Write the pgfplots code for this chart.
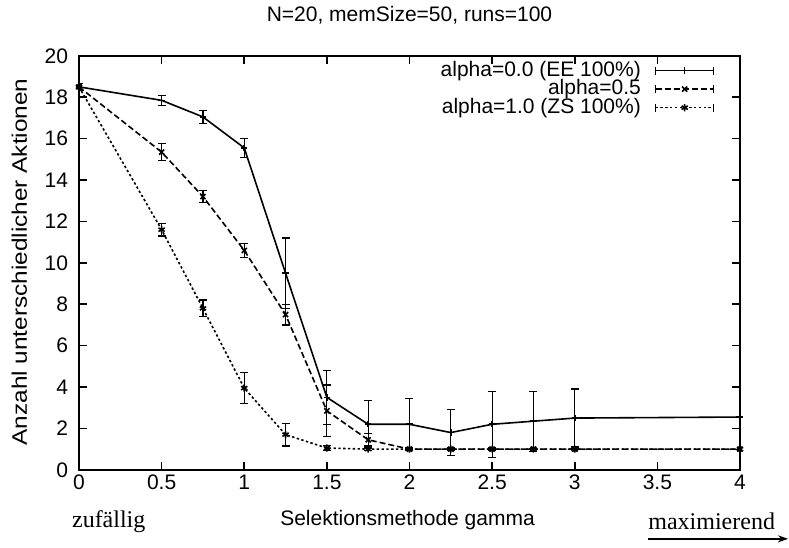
\documentclass[border=0pt]{standalone}
\usepackage{pgfplots}
\pgfplotsset{compat=1.18}
\usepackage{pgfplotstable}
\usepackage{fontspec}
\setmainfont{Liberation Sans}
\newfontfamily\seriffont{Liberation Serif}
\usetikzlibrary{arrows.meta}

\pgfplotstableread{
x y e
0 18.5 0.15
0.5 17.85 0.25
0.75 17.05 0.3
1 15.55 0.45
1.25 9.5 1.7
1.5 3.5 1.3
1.75 2.2 1.15
2 2.2 1.25
2.25 1.8 1.1
2.5 2.2 1.6
2.75 2.35 1.45
3 2.5 1.4
4 2.55 0
}\seriesA

\pgfplotstableread{
x y e
0 18.5 0.15
0.5 15.35 0.4
0.75 13.2 0.3
1 10.6 0.35
1.25 7.5 0.5
1.5 2.85 1.25
1.75 1.45 0.3
2 1.0 0.05
2.25 1.0 0.05
2.5 1.0 0.05
2.75 1.0 0.03
3 1.0 0.03
4 1.0 0
}\seriesB

\pgfplotstableread{
x y e
0 18.5 0.15
0.5 11.6 0.3
0.75 7.8 0.4
1 3.95 0.75
1.25 1.7 0.55
1.5 1.05 0.12
1.75 1.0 0.08
2 1.0 0.03
2.25 1.0 0.03
2.5 1.0 0.03
2.75 1.0 0.03
3 1.0 0.03
4 1.0 0
}\seriesC

\begin{document}
\begin{tikzpicture}
\begin{axis}[
  scale only axis,
  width=330.5pt, height=207pt,
  xmin=0, xmax=4, ymin=0, ymax=20,
  xtick={0,0.5,1,1.5,2,2.5,3,3.5,4},
  xticklabels={0,0.5,1,1.5,2,2.5,3,3.5,4},
  ytick={0,2,4,6,8,10,12,14,16,18,20},
  tick align=inside,
  major tick length=4pt,
  axis line style={line width=1pt},
  every tick/.style={line width=0.8pt, black},
  /pgf/number format/assume math mode=true,
  tick label style={font=\fontsize{10.5}{12}\selectfont},
  xticklabel style={yshift=1pt},
  yticklabel style={xshift=-2pt},
  title={N=20, memSize=50, runs=100},
  title style={font=\fontsize{10.5}{12}\selectfont, at={(axis description cs:0.5,1.053)}, anchor=base},
  xlabel={Selektionsmethode gamma},
  every axis x label/.style={font=\fontsize{10.5}{12}\selectfont, at={(axis description cs:0.497,-0.135)}, anchor=base},
  ylabel={Anzahl unterschiedlicher Aktionen},
  every axis y label/.style={font=\fontsize{10.5}{12}\selectfont, at={(axis description cs:-0.0787,0.502)}, rotate=90, xscale=1.16, anchor=base},
  legend plot pos=right,
  legend cell align=right,
  legend style={draw=none, fill=none, at={(axis description cs:0.962,0.9875)}, anchor=north east,
    font=\fontsize{10.5}{12}\selectfont, inner sep=0pt,
    nodes={inner sep=0pt, text height=7.5pt, text depth=1.75pt}},
  legend image code/.code={
    \draw[#1, mark repeat=2, mark phase=2] plot coordinates {(0pt,0pt) (14.5pt,0pt) (29pt,0pt)};
    \draw[solid, line width=0.6pt] (0pt,-2pt) -- (0pt,2pt) (29pt,-2pt) -- (29pt,2pt);
  },
  error bars/error bar style={solid, line width=0.6pt},
  error bars/error mark options={rotate=90, mark size=2pt, line width=0.6pt, solid},
]
\addplot[black, line width=0.8pt, mark=+, mark size=1.6pt, mark options={solid},
  error bars/.cd, y dir=both, y explicit]
  table[x=x, y=y, y error=e] {\seriesA};
\addlegendentry{alpha=0.0 (EE 100\%)\hspace*{7pt}}
\addplot[black, line width=0.8pt, dash pattern=on 3pt off 1.5pt, mark=x, mark size=1.8pt, mark options={solid},
  error bars/.cd, y dir=both, y explicit]
  table[x=x, y=y, y error=e] {\seriesB};
\addlegendentry{alpha=0.5\hspace*{7pt}}
\addplot[black, line width=0.8pt, dash pattern=on 1.2pt off 1.2pt, mark=asterisk, mark size=1.8pt, mark options={solid},
  error bars/.cd, y dir=both, y explicit]
  table[x=x, y=y, y error=e] {\seriesC};
\addlegendentry{alpha=1.0 (ZS 100\%)\hspace*{7pt}}
\end{axis}
\node[anchor=base west, font=\seriffont\fontsize{12}{14}\selectfont, inner sep=0pt] at (-3.65pt,-29pt) {zufällig};
\node[anchor=base west, font=\seriffont\fontsize{12}{14}\selectfont, inner sep=0pt] at (284.5pt,-30pt) {maximierend};
\draw[line width=0.8pt, -{Stealth[length=5pt,width=3.5pt]}] (284.5pt,-34.5pt) -- (354.5pt,-34.5pt);
\useasboundingbox (-39.5pt,-39pt) rectangle (355pt,230.5pt);
\end{tikzpicture}
\end{document}
